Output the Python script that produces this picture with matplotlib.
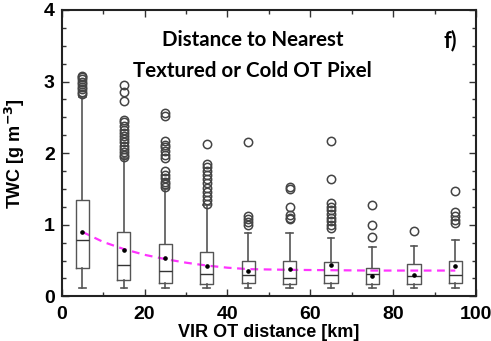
import matplotlib
matplotlib.use("Agg")
import matplotlib.pyplot as plt
from matplotlib.ticker import MultipleLocator

# distance bins [km] (bin centres)
dist = [5, 15, 25, 35, 45, 55, 65, 75, 85, 95]

# TWC box statistics [g m-3]
q1 = [0.39, 0.23, 0.19, 0.17, 0.18, 0.17, 0.18, 0.17, 0.17, 0.19]
med = [0.78, 0.44, 0.36, 0.31, 0.30, 0.26, 0.30, 0.31, 0.29, 0.30]
q3 = [1.35, 0.90, 0.73, 0.62, 0.50, 0.50, 0.48, 0.39, 0.45, 0.50]
mean = [0.90, 0.65, 0.54, 0.43, 0.36, 0.38, 0.44, 0.28, 0.30, 0.43]
whis_lo = [0.11, 0.11, 0.11, 0.11, 0.11, 0.11, 0.11, 0.11, 0.11, 0.11]
whis_hi = [2.78, 1.93, 1.50, 1.27, 0.88, 0.89, 0.81, 0.69, 0.70, 0.79]
outliers = [
    [2.82, 2.86, 2.90, 2.93, 2.97, 3.00, 3.03, 3.06, 3.08],
    [1.95, 1.98, 2.02, 2.06, 2.10, 2.15, 2.20, 2.24, 2.28, 2.33, 2.38,
     2.44, 2.47, 2.73, 2.85, 2.95],
    [1.53, 1.57, 1.60, 1.65, 1.70, 1.75, 1.93, 1.98, 2.03, 2.08, 2.12,
     2.17, 2.52, 2.56],
    [1.29, 1.34, 1.40, 1.46, 1.52, 1.58, 1.64, 1.70, 1.75, 1.80, 1.85, 2.13],
    [1.00, 1.04, 1.08, 1.12, 2.15],
    [1.08, 1.10, 1.13, 1.25, 1.50, 1.53],
    [0.95, 1.00, 1.05, 1.10, 1.15, 1.20, 1.25, 1.30, 1.64, 2.17],
    [0.83, 1.00, 1.27],
    [0.91],
    [1.02, 1.07, 1.12, 1.18, 1.47],
]

# fitted curve (magenta dashed)
fit_x = [5, 10, 15, 20, 25, 30, 35, 40, 45, 55, 65, 75, 85, 95]
fit_y = [0.90, 0.76, 0.66, 0.58, 0.52, 0.47, 0.43, 0.40, 0.38, 0.37, 0.365, 0.36, 0.36, 0.36]

stats = []
for i in range(len(dist)):
    stats.append(dict(med=med[i], q1=q1[i], q3=q3[i], whislo=whis_lo[i],
                      whishi=whis_hi[i], fliers=outliers[i], mean=mean[i]))

fig = plt.figure(figsize=(4.91, 3.41), dpi=100)
ax = fig.add_axes([0.1257, 0.131, 0.8438, 0.8397])

box_c = "#555555"
ax.bxp(stats, positions=dist, widths=3.2, capwidths=1.6, showmeans=True,
       manage_ticks=False,
       boxprops=dict(color=box_c, lw=1.0),
       whiskerprops=dict(color=box_c, lw=1.2),
       capprops=dict(color=box_c, lw=1.2),
       medianprops=dict(color="#333333", lw=1.0),
       meanprops=dict(marker="o", markerfacecolor="black", markeredgecolor="black",
                      markersize=2.3),
       flierprops=dict(marker="o", markerfacecolor="none", markeredgecolor="#444444",
                       markersize=6, markeredgewidth=1.1))

ax.plot(fit_x, fit_y, color="#ff33ff", lw=1.6, dashes=(3.5, 2.5), zorder=1)

ax.set_xlim(0, 100)
ax.set_ylim(0, 4)
ax.xaxis.set_major_locator(MultipleLocator(20))
ax.xaxis.set_minor_locator(MultipleLocator(10))
ax.yaxis.set_major_locator(MultipleLocator(1))
ax.yaxis.set_minor_locator(MultipleLocator(0.25))
ax.tick_params(which="both", direction="in", top=True, right=True, width=1.0, color="#333333")
ax.tick_params(which="major", length=5)
ax.tick_params(which="minor", length=3)
ax.tick_params(axis="x", pad=7)
ax.tick_params(axis="y", pad=5)
for s in ax.spines.values():
    s.set_linewidth(1.5)
    s.set_color("#222222")

lab_font = dict(family="Liberation Sans", weight="bold", size=13)
for t in ax.get_xticklabels() + ax.get_yticklabels():
    t.set_fontfamily("Liberation Sans")
    t.set_fontweight("bold")
    t.set_fontsize(14)

ax.set_xlabel("VIR OT distance [km]", labelpad=1, **lab_font)
ax.set_ylabel("TWC [g m$^{\\mathbf{-3}}$]", **lab_font)
ax.yaxis.set_label_coords(-0.084, 0.5)

ax.text(0.46, 0.84, "Distance to Nearest\nTextured or Cold OT Pixel",
        transform=ax.transAxes, ha="center", va="center", family="Lato",
        weight="bold", size=14.8, linespacing=1.7)
ax.text(0.937, 0.895, "f)", transform=ax.transAxes, ha="center", va="center",
        family="Lato", weight="bold", size=15.5)

fig.savefig("out.png", dpi=100)
